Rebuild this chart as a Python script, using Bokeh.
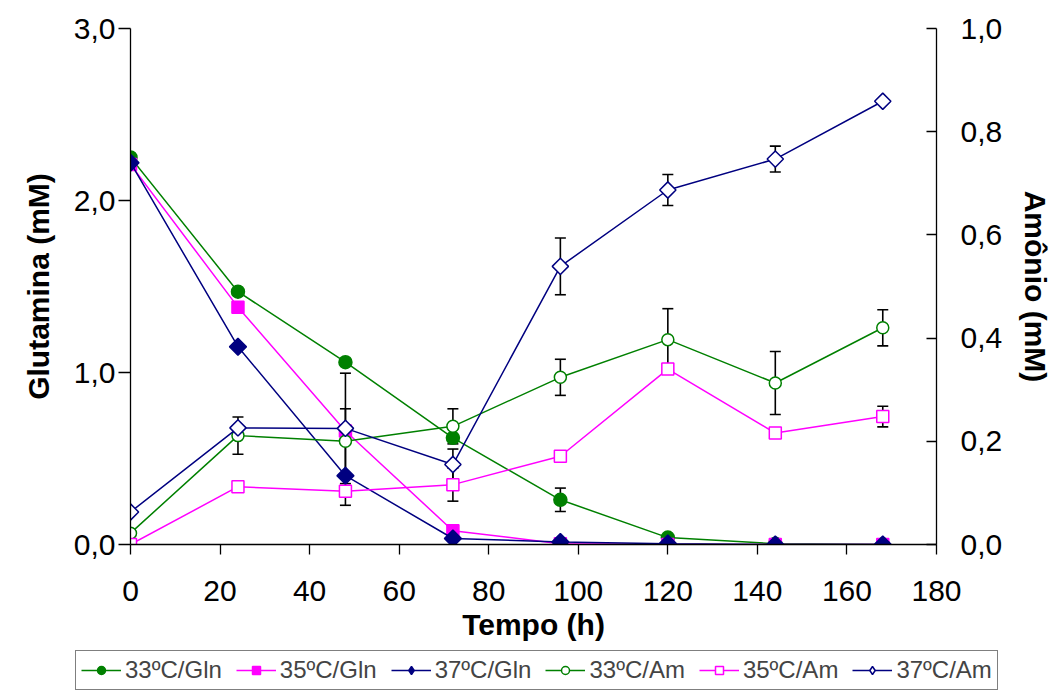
import numpy as np
from bokeh.plotting import figure
from bokeh.models import (Range1d, LinearAxis, Whisker, TeeHead, ColumnDataSource,
                          Legend, LegendItem, CustomJSTickFormatter, FixedTicker)
from bokeh.embed import file_html
from bokeh.resources import INLINE

# ---------------- data ----------------
t = [0, 24, 48, 72, 96, 120, 144, 168]
gln33 = [2.25, 1.47, 1.06, 0.62, 0.26, 0.04, 0.005, 0.0]
gln35 = [2.21, 1.38, 0.66, 0.08, 0.005, 0.0, 0.0, 0.0]
gln37 = [2.22, 1.15, 0.40, 0.035, 0.015, 0.005, 0.0, 0.0]
gln33_err = [0.0, 0.0, 0.0, 0.0, 0.068, 0.0, 0.0, 0.0]
am33 = [0.022, 0.211, 0.200, 0.229, 0.324, 0.397, 0.313, 0.420]
am35 = [0.0, 0.112, 0.103, 0.116, 0.171, 0.340, 0.216, 0.248]
am37 = [0.063, 0.226, 0.225, 0.155, 0.539, 0.687, 0.747, 0.859]
am33_err = [0.005, 0.036, 0.063, 0.034, 0.035, 0.060, 0.061, 0.035]
am35_err = [0.003, 0.010, 0.027, 0.032, 0.006, 0.005, 0.008, 0.020]
am37_err = [0.005, 0.0, 0.107, 0.030, 0.055, 0.030, 0.025, 0.0]
x_ticks = [0, 20, 40, 60, 80, 100, 120, 140, 160, 180]
y_left_ticks = [0, 1, 2, 3]
y_right_ticks = [0, 0.2, 0.4, 0.6, 0.8, 1.0]
labels = ["33ºC/Gln", "35ºC/Gln", "37ºC/Gln", "33ºC/Am", "35ºC/Am", "37ºC/Am"]

GREEN, MAG, NAVY = "#008000", "#FF00FF", "#000080"
FONT = "Liberation Sans"

# (values, color, marker, size, filled, range, angle, legend marker, legend size)
styles = [
    (gln33, GREEN, "circle", 13, True, "default", 0.0, "circle", 12),
    (gln35, MAG, "square", 12, True, "default", 0.0, "square", 12),
    (gln37, NAVY, "square", 12, True, "default", np.pi / 4, "diamond", 17),
    (am33, GREEN, "circle", 12, False, "am", 0.0, "circle", 11),
    (am35, MAG, "square", 12, False, "am", 0.0, "square", 12),
    (am37, NAVY, "square", 11.5, False, "am", np.pi / 4, "diamond", 17),
]

p = figure(width=1056, height=646, x_range=Range1d(0, 180), y_range=Range1d(0, 3),
           output_backend="svg", toolbar_location=None,
           min_border_left=130, min_border_right=120, min_border_top=28,
           min_border_bottom=102)
p.background_fill_color = "white"
p.border_fill_color = "white"
p.outline_line_color = None
p.xgrid.visible = False
p.ygrid.visible = False
p.extra_y_ranges = {"am": Range1d(0, 1)}

comma = CustomJSTickFormatter(code="return tick.toFixed(1).replace('.', ',');")

xa = p.xaxis[0]
xa.ticker = FixedTicker(ticks=x_ticks)
xa.axis_label = "Tempo (h)"
xa.major_tick_in = 0
xa.major_tick_out = 10
xa.minor_tick_line_color = None
xa.major_label_standoff = 26
xa.axis_label_standoff = 4

ya = p.yaxis[0]
ya.ticker = FixedTicker(ticks=y_left_ticks)
ya.formatter = comma
ya.axis_label = "Glutamina (mM)"
ya.major_tick_in = 0
ya.major_tick_out = 12
ya.minor_tick_line_color = None
ya.major_label_standoff = 3
ya.axis_label_standoff = 16

ra = LinearAxis(y_range_name="am", ticker=FixedTicker(ticks=y_right_ticks), formatter=comma,
                axis_label="Amônio (mM)")
ra.major_tick_in = 10
ra.major_tick_out = 0
ra.minor_tick_line_color = None
ra.major_label_standoff = 24
ra.axis_label_standoff = 14
p.add_layout(ra, "right")

for ax in [xa, ya, ra]:
    ax.axis_line_color = "black"
    ax.axis_line_width = 1.3
    ax.major_tick_line_color = "black"
    ax.major_tick_line_width = 1.3
    ax.major_label_text_font = FONT
    ax.major_label_text_font_size = "30px"
    ax.major_label_text_color = "black"
    ax.axis_label_text_font = FONT
    ax.axis_label_text_font_size = "30px"
    ax.axis_label_text_font_style = "bold"
    ax.axis_label_text_color = "black"

for y, color, marker, size, filled, rng, angle, _lm, _ls in styles:
    kw = {} if rng == "default" else {"y_range_name": rng}
    p.line(t, y, line_color=color, line_width=1.5, **kw)
    p.scatter(t, y, marker=marker, size=size, angle=angle,
              line_color=color, line_width=1.5,
              fill_color=color if filled else "white", **kw)

def errors(y, err, rng):
    idx = [i for i, e in enumerate(err) if e > 0]
    src = ColumnDataSource(dict(
        x=[t[i] for i in idx],
        lo=[y[i] - err[i] for i in idx],
        hi=[y[i] + err[i] for i in idx]))
    kw = {} if rng == "default" else {"y_range_name": rng}
    w = Whisker(source=src, base="x", lower="lo", upper="hi", dimension="height",
                line_color="black", line_width=1.6,
                upper_head=TeeHead(size=11, line_color="black", line_width=1.6),
                lower_head=TeeHead(size=11, line_color="black", line_width=1.6), **kw)
    p.add_layout(w)

errors(gln33, gln33_err, "default")
errors(am33, am33_err, "am")
errors(am35, am35_err, "am")
errors(am37, am37_err, "am")

# ---------------- legend strip: same series, range chosen so nothing is plotted ----------------
lg = figure(width=1056, height=45, x_range=Range1d(1000, 1001), y_range=Range1d(1000, 1001),
            x_axis_location=None, y_axis_location=None,
            output_backend="svg", toolbar_location=None,
            min_border_left=0, min_border_right=0, min_border_top=0, min_border_bottom=0)
lg.xgrid.visible = False
lg.ygrid.visible = False
lg.outline_line_color = None
lg.background_fill_color = "white"
lg.border_fill_color = "white"

items = []
for (y, color, marker, size, filled, rng, angle, lmarker, lsize), lab in zip(styles, labels):
    lr = lg.line(t, y, line_color=color, line_width=1.5)
    mr = lg.scatter(t, y, marker=lmarker, size=lsize,
                    line_color=color, line_width=1.5,
                    fill_color=color if filled else "white")
    items.append(LegendItem(label=lab, renderers=[lr, mr]))

legend = Legend(items=items, orientation="horizontal", location=(75, 1),
                label_text_font=FONT, label_text_font_size="24px",
                glyph_width=40, glyph_height=20, label_standoff=4, spacing=14,
                padding=5, margin=0, border_line_color="black", border_line_width=1,
                background_fill_color="white")
lg.add_layout(legend, "center")

open("out.html", "w").write(file_html([p, lg], INLINE))
